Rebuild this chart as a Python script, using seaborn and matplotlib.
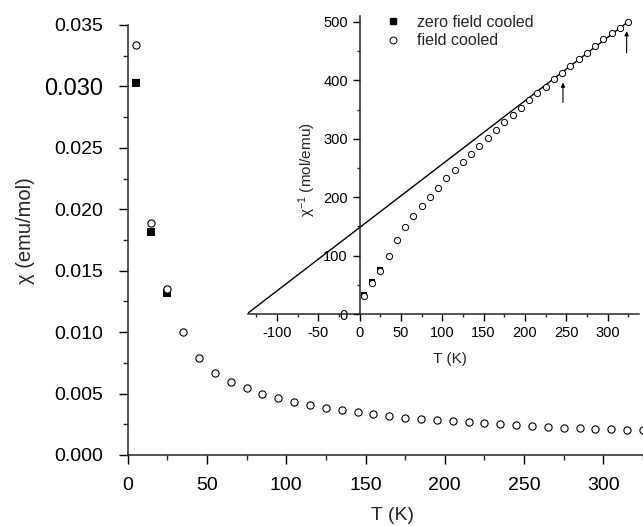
import matplotlib
matplotlib.use("Agg")
import numpy as np
import pandas as pd
import matplotlib.pyplot as plt
import seaborn as sns
from matplotlib.ticker import MultipleLocator, FormatStrFormatter
from matplotlib.lines import Line2D

# Temperature grid of the measurement (K)
temperature = [5, 15, 25, 35, 45, 55, 65, 75, 85, 95, 105, 115, 125, 135, 145,
               155, 165, 175, 185, 195, 205, 215, 225, 235, 245, 255, 265, 275,
               285, 295, 305, 315, 325]

# Inverse susceptibility, field cooled (mol/emu)
inv_chi_fc = [30, 53, 74, 100, 127, 149, 168, 184.5, 201, 216, 232, 247, 260,
              274.5, 288, 302, 315, 328, 340.5, 353, 366, 377.5, 389, 401.5,
              413, 425, 436, 447.5, 459, 470, 480.5, 490, 500]

# Zero field cooled points (only low temperatures differ from FC)
temperature_zfc = [5, 15, 25]
inv_chi_zfc = [33, 55, 76]

# Curie-Weiss fit: 1/chi = (T - theta) / C
theta_cw = -136.5      # K
curie_const = 0.922    # emu K / mol
fit_T_max = 325

# Temperatures marked by arrows in the inset (range of the fit)
arrow_T = [246, 323]
arrow_y0 = [362, 447]
arrow_y1 = [396, 484]

chi_ticks = [0.000, 0.005, 0.010, 0.015, 0.020, 0.025, 0.030, 0.035]

fc = pd.DataFrame({"T": temperature, "inv_chi": inv_chi_fc})
fc["chi"] = 1.0 / fc["inv_chi"]
zfc = pd.DataFrame({"T": temperature_zfc, "inv_chi": inv_chi_zfc})
zfc["chi"] = 1.0 / zfc["inv_chi"]
fit_T = np.array([theta_cw, fit_T_max])
fit = pd.DataFrame({"T": fit_T, "inv_chi": (fit_T - theta_cw) / curie_const})

sns.set_theme(style="ticks")
plt.rcParams["font.family"] = ["Liberation Sans", "DejaVu Sans"]
plt.rcParams["mathtext.fontset"] = "custom"
plt.rcParams["mathtext.rm"] = "Liberation Sans"
plt.rcParams["mathtext.it"] = "Liberation Sans:italic"
plt.rcParams["axes.linewidth"] = 1.1
plt.rcParams["axes.unicode_minus"] = False

fig = plt.figure(figsize=(6.43, 5.26), dpi=100)

# ---- main panel: chi vs T ----
ax = fig.add_axes([0.1986, 0.135, 0.8014, 0.8175])
sns.scatterplot(data=zfc, x="T", y="chi", marker="s", s=26, color="black",
                linewidth=0, ax=ax, clip_on=False, zorder=2)
sns.scatterplot(data=fc, x="T", y="chi", marker="o", s=27, color="white",
                edgecolor="black", linewidth=0.8, ax=ax, clip_on=False, zorder=3)
ax.set_xlim(0, 325)
ax.set_ylim(0, 0.035)
ax.xaxis.set_major_locator(MultipleLocator(50))
ax.xaxis.set_minor_locator(MultipleLocator(25))
ax.set_yticks(chi_ticks)
ax.yaxis.set_minor_locator(MultipleLocator(0.0025))
ax.yaxis.set_major_formatter(FormatStrFormatter("%.3f"))
ax.tick_params(which="major", direction="out", length=6.5, width=1.0,
               labelsize=14, colors="black")
ax.tick_params(which="minor", direction="out", length=3.6, width=1.0)
ax.tick_params(axis="y", which="major", pad=11.5)
ax.tick_params(axis="x", which="major", pad=9)
sns.despine(ax=ax)
ax.set_xlabel("T (K)", fontsize=14)
ax.set_ylabel("χ (emu/mol)", fontsize=14.5)
ax.xaxis.set_label_coords(0.513, -0.122)
ax.yaxis.set_label_coords(-0.180, 0.521)
ax.yaxis.get_major_ticks()[6].label1.set_fontsize(17)

# ---- inset: 1/chi vs T with Curie-Weiss fit ----
ax_in = fig.add_axes([0.3857, 0.403, 0.6081, 0.5665])
ax_in.patch.set_alpha(0)
sns.lineplot(data=fit, x="T", y="inv_chi", color="black", linewidth=1.0,
             ax=ax_in, zorder=1)
sns.scatterplot(data=zfc, x="T", y="inv_chi", marker="s", s=18, color="black",
                linewidth=0, ax=ax_in, zorder=2)
sns.scatterplot(data=fc, x="T", y="inv_chi", marker="o", s=20, color="white",
                edgecolor="black", linewidth=0.7, ax=ax_in, zorder=3)
for t, y0, y1 in zip(arrow_T, arrow_y0, arrow_y1):
    ax_in.annotate("", xy=(t, y1), xytext=(t, y0),
                   arrowprops=dict(arrowstyle="-|>", lw=0.8, color="black",
                                   mutation_scale=6, shrinkA=0, shrinkB=0))
ax_in.set_xlim(-135, 338)
ax_in.set_ylim(0, 510)
ax_in.spines["left"].set_position(("data", 0))
ax_in.spines["top"].set_visible(False)
ax_in.spines["right"].set_visible(False)
ax_in.xaxis.set_major_locator(MultipleLocator(50))
ax_in.xaxis.set_minor_locator(MultipleLocator(25))
ax_in.yaxis.set_major_locator(MultipleLocator(100))
ax_in.yaxis.set_minor_locator(MultipleLocator(50))
ax_in.tick_params(which="major", direction="out", length=5, width=1.0,
                  labelsize=10.5, pad=3.5, colors="black")
ax_in.tick_params(which="minor", direction="out", length=2.5, width=1.0)
ax_in.set_xlabel("T (K)", fontsize=11)
ax_in.set_ylabel(r"χ$^{-1}$ (mol/emu)", fontsize=11)
ax_in.xaxis.set_label_coords(0.517, -0.128)
ax_in.yaxis.set_label_coords(0.178, 0.483)

handles = [
    Line2D([], [], marker="s", color="black", linestyle="none", markersize=5),
    Line2D([], [], marker="o", markerfacecolor="white", markeredgecolor="black",
           markeredgewidth=0.7, linestyle="none", markersize=5),
]
ax_in.legend(handles, ["zero field cooled", "field cooled"], loc="upper left",
             bbox_to_anchor=(385 / 643, 1 - 15 / 526),
             bbox_transform=fig.transFigure, frameon=False, fontsize=11.5,
             borderpad=0, borderaxespad=0, handlelength=1.0,
             handletextpad=1.0, labelspacing=0.2)

fig.savefig("out.png", dpi=100)
